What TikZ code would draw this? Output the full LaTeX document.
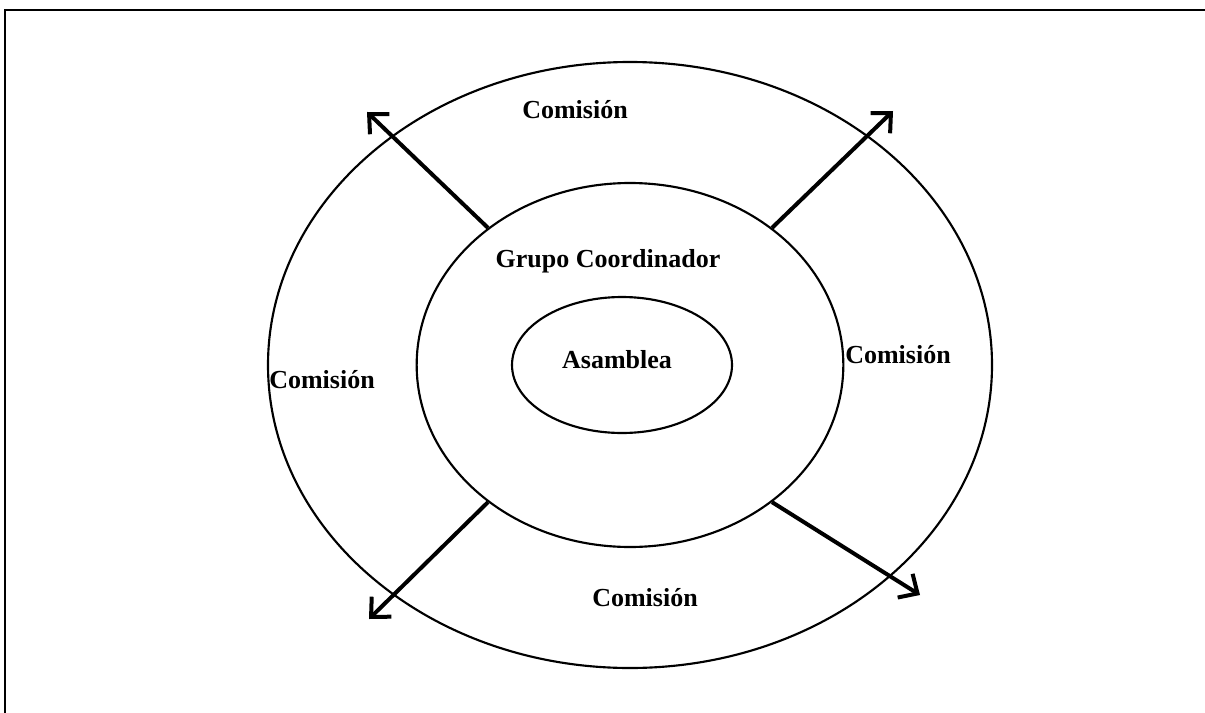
\documentclass[tikz,border=0pt]{standalone}
\usepackage{fontspec}
\setmainfont{Liberation Serif}
\usetikzlibrary{shapes.geometric,arrows.meta}
\tikzset{
  ring/.style={ellipse, draw, line width=1.6pt, inner sep=0pt},
  lbl/.style={font=\fontsize{19.5}{23}\selectfont\bfseries, inner sep=0pt},
  flecha/.style={line width=3pt, -{Straight Barb[length=11pt, width=21pt, line width=3pt]}}
}
\begin{document}
\begin{tikzpicture}[x=0.75pt, y=-0.75pt]
\useasboundingbox (0,0) rectangle (1205,713);
% marco
\draw[line width=1.6pt] (5,713)--(5,10)--(1205,10);

% anillos
\node[ring, minimum width=543pt, minimum height=454.5pt] (comision) at (630,365) {};
\node[ring, minimum width=320pt, minimum height=273pt] (grupo) at (630,365) {};
\node[ring, minimum width=165pt, minimum height=102pt] (asamblea) at (622,365) {};

% textos
\node[lbl] (comTop) at (575,110) {Comisión};
\node[lbl] (comIzq) at (322,380) {Comisión};
\node[lbl] (comDer) at (898,355) {Comisión};
\node[lbl] (comAbj) at (645,598) {Comisión};
\node[lbl] (txtGrupo) at (608,261) {Grupo Coordinador};
\node[lbl] (txtAsam) at (617,360) {Asamblea};

% flechas
\coordinate (tipNO) at (367,112);
\coordinate (tipNE) at (893,111);
\coordinate (tipSO) at (369,619);
\coordinate (tipSE) at (920,595);
\draw[flecha] (grupo.136) -- (tipNO);
\draw[flecha] (grupo.44) -- (tipNE);
\draw[flecha] (grupo.224) -- (tipSO);
\draw[flecha] (grupo.316) -- (tipSE);
\end{tikzpicture}
\end{document}
